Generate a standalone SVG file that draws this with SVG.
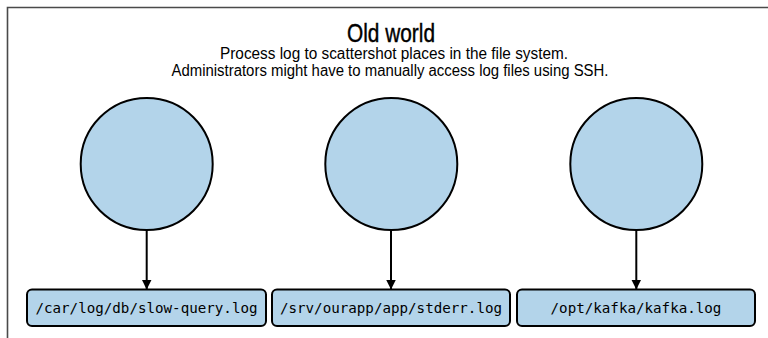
<svg xmlns="http://www.w3.org/2000/svg" width="768" height="338" viewBox="0 0 768 338">
<defs>
<style>
.title{font-family:"Liberation Sans",Arial,sans-serif;font-size:25px;fill:#000;text-anchor:middle;stroke:#000;stroke-width:0.4}
.sub{font-family:"Liberation Sans",Arial,sans-serif;font-size:16px;fill:#000;text-anchor:middle}
.node{fill:#b3d4ea;stroke:#000;stroke-width:2}
.lbl{font-family:"DejaVu Sans Mono","Liberation Mono",monospace;font-size:14.2px;fill:#000;text-anchor:middle}
.edge{stroke:#000;stroke-width:2;fill:none}
</style>
<marker id="arr" markerWidth="10" markerHeight="10" viewBox="0 0 10 10" refX="10" refY="5" orient="auto" markerUnits="userSpaceOnUse">
<path d="M0,0 L10,5 L0,10 z" fill="#000"/>
</marker>
</defs>
<rect width="768" height="338" fill="#fff"/>
<path d="M7.5,338 V7.5 H768" fill="none" stroke="#4a4a4a" stroke-width="1.6"/>
<g id="header">
<text class="title" x="391" y="41.5" textLength="88" lengthAdjust="spacingAndGlyphs">Old world</text>
<text class="sub" x="394" y="59" textLength="348" lengthAdjust="spacingAndGlyphs">Process log to scattershot places in the file system.</text>
<text class="sub" x="390" y="75.5" textLength="437" lengthAdjust="spacingAndGlyphs">Administrators might have to manually access log files using SSH.</text>
</g>
<g id="edges">
<line class="edge" x1="146.7" y1="230" x2="146.7" y2="289.5" marker-end="url(#arr)"/>
<line class="edge" x1="391" y1="230" x2="391" y2="289.5" marker-end="url(#arr)"/>
<line class="edge" x1="636.3" y1="230" x2="636.3" y2="289.5" marker-end="url(#arr)"/>
</g>
<g id="proc1"><circle class="node" cx="146.7" cy="164" r="66"/></g>
<g id="proc2"><circle class="node" cx="391.3" cy="164" r="66"/></g>
<g id="proc3"><circle class="node" cx="636.3" cy="164" r="66"/></g>
<g id="log1">
<rect class="node" x="27" y="289.5" width="239" height="36.5" rx="5"/>
<text class="lbl" x="146.5" y="312.5">/car/log/db/slow-query.log</text>
</g>
<g id="log2">
<rect class="node" x="272" y="289.5" width="238" height="36.5" rx="5"/>
<text class="lbl" x="391" y="312.5">/srv/ourapp/app/stderr.log</text>
</g>
<g id="log3">
<rect class="node" x="517" y="289.5" width="238" height="36.5" rx="5"/>
<text class="lbl" x="636" y="312.5">/opt/kafka/kafka.log</text>
</g>
</svg>
